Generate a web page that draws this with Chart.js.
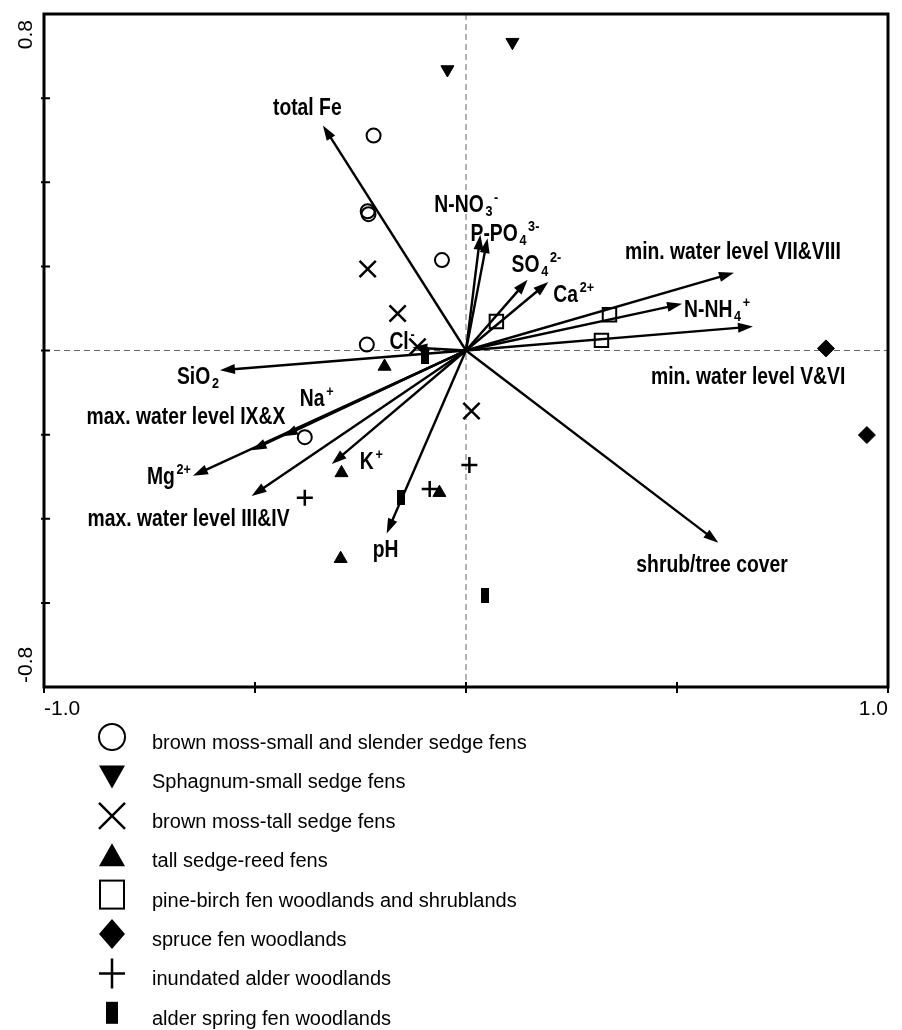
<!DOCTYPE html>
<html>
<head>
<meta charset="utf-8">
<script src="https://cdn.jsdelivr.net/npm/chart.js@4.4.1/dist/chart.umd.min.js"></script>
<style>
  html, body { margin: 0; padding: 0; background: #fff; }
  #wrap { width: 902px; height: 1030px; position: relative; }
</style>
</head>
<body>
<div id="wrap"><canvas id="ordination"></canvas></div>
<script>
// vegetation groups, legend order
const groupNames = [
  'brown moss-small and slender sedge fens',
  'Sphagnum-small sedge fens',
  'brown moss-tall sedge fens',
  'tall sedge-reed fens',
  'pine-birch fen woodlands and shrublands',
  'spruce fen woodlands',
  'inundated alder woodlands',
  'alder spring fen woodlands'
];

// sample scores [axis 1, axis 2]
const brownMossSmall = [[-0.219, 0.511], [-0.233, 0.331], [-0.231, 0.324], [-0.057, 0.215], [-0.235, 0.014], [-0.382, -0.206]];
const sphagnumSmall = [[0.110, 0.733], [-0.044, 0.668]];
const brownMossTall = [[-0.233, 0.194], [-0.162, 0.088], [-0.115, 0.009], [0.013, -0.144]];
const tallSedgeReed = [[-0.193, -0.038], [-0.295, -0.291], [-0.063, -0.338], [-0.297, -0.495]];
const pineBirch = [[0.072, 0.069], [0.340, 0.085], [0.321, 0.024]];
const spruce = [[0.853, 0.005], [0.950, -0.201]];
const inundatedAlder = [[-0.382, -0.350], [-0.086, -0.329], [0.008, -0.272]];
const alderSpring = [[-0.098, -0.014], [-0.153, -0.350], [0.046, -0.582]];

// environmental variables (arrow tips); _{} subscript, ^{} superscript
const envNames = ['total Fe', 'N-NO_{3}^{-}', 'P-PO_{4}^{3-}', 'SO_{4}^{2-}', 'Ca^{2+}',
  'min. water level VII&VIII', 'N-NH_{4}^{+}', 'min. water level V&VI', 'shrub/tree cover',
  'SiO_{2}', 'Na^{+}', 'max. water level IX&X', 'Mg^{2+}', 'max. water level III&IV',
  'K^{+}', 'pH', 'Cl^{-}'];
const envX = [-0.339, 0.034, 0.051, 0.146, 0.195, 0.635, 0.512, 0.680, 0.598, -0.583, -0.434, -0.508, -0.647, -0.508, -0.318, -0.188, -0.127];
const envY = [0.535, 0.275, 0.267, 0.168, 0.163, 0.185, 0.111, 0.057, -0.457, -0.047, -0.204, -0.237, -0.298, -0.346, -0.270, -0.435, 0.007];

// axis ticks
const xTicks = [-1, -0.5, 0, 0.5, 1];
const yTicks = [-0.6, -0.4, -0.2, 0, 0.2, 0.4, 0.6];
const xTickLabels = ['-1.0', '1.0'];
const yTickLabels = ['0.8', '-0.8'];

// label placement, px from arrow tip (left edge, baseline)
const labelOffsets = [[-50, -10], [-46, -23], [-17, 3], [-16, -8], [5, 20], [-109, -14], [2, 13], [-102, 57],
  [-82, 29], [-43, 14], [17, -30], [-165, -26], [-46, 8], [-164, 30], [28, 5], [-14, 24], [-23, 1]];

const FONT = "'Liberation Sans', Arial, Helvetica, sans-serif";

function barCanvas(w, h) {
  const c = document.createElement('canvas');
  c.width = w; c.height = h;
  const g = c.getContext('2d');
  g.fillStyle = '#000';
  g.fillRect(0, 0, w, h);
  return c;
}

const markerStyles = [
  { pointStyle: 'circle', radius: 7, rotation: 0, bg: 'rgba(0,0,0,0)', bw: 2 },
  { pointStyle: 'triangle', radius: 7.5, rotation: 180, bg: '#000', bw: 1 },
  { pointStyle: 'crossRot', radius: 11.5, rotation: 0, bg: '#000', bw: 2.5 },
  { pointStyle: 'triangle', radius: 7.5, rotation: 0, bg: '#000', bw: 1 },
  { pointStyle: 'rect', radius: 9.5, rotation: 0, bg: 'rgba(0,0,0,0)', bw: 2 },
  { pointStyle: 'rectRot', radius: 8.5, rotation: 0, bg: '#000', bw: 1 },
  { pointStyle: 'cross', radius: 8, rotation: 0, bg: '#000', bw: 2.5 },
  { pointStyle: barCanvas(8, 15), radius: 8, rotation: 0, bg: '#000', bw: 0 }
];

const groupData = [brownMossSmall, sphagnumSmall, brownMossTall, tallSedgeReed, pineBirch, spruce, inundatedAlder, alderSpring];

const datasets = groupData.map((pts, i) => ({
  label: groupNames[i],
  data: pts.map(p => ({ x: p[0], y: p[1] })),
  pointStyle: markerStyles[i].pointStyle,
  pointRadius: markerStyles[i].radius,
  pointRotation: markerStyles[i].rotation,
  pointBackgroundColor: markerStyles[i].bg,
  pointBorderColor: '#000',
  pointBorderWidth: markerStyles[i].bw,
  showLine: false
}));

// parse "SO_{4}^{2-}" into segments
function parseLabel(s) {
  const out = [];
  const re = /([_^])\{([^}]*)\}|([^_^]+)/g;
  let m;
  while ((m = re.exec(s)) !== null) {
    if (m[3]) out.push({ t: m[3], k: 0 });
    else out.push({ t: m[2], k: m[1] === '_' ? 1 : 2 });
  }
  return out;
}

function drawRich(ctx, s, x, y) {
  ctx.save();
  ctx.translate(x, y);
  ctx.scale(0.84, 1);
  ctx.fillStyle = '#000';
  ctx.textBaseline = 'alphabetic';
  ctx.textAlign = 'left';
  let cx = 0;
  parseLabel(s).forEach(seg => {
    ctx.font = seg.k ? '700 15px ' + FONT : '700 23px ' + FONT;
    const dy = seg.k === 1 ? 4 : seg.k === 2 ? -10 : 0;
    if (seg.k) cx += 2;
    ctx.fillText(seg.t, cx, dy);
    cx += ctx.measureText(seg.t).width;
  });
  ctx.restore();
}

function drawArrow(ctx, x0, y0, x1, y1) {
  const a = Math.atan2(y1 - y0, x1 - x0);
  const L = 15, W = 5;
  const bx = x1 - L * Math.cos(a), by = y1 - L * Math.sin(a);
  ctx.beginPath();
  ctx.moveTo(x0, y0);
  ctx.lineTo(bx + 2 * Math.cos(a), by + 2 * Math.sin(a));
  ctx.stroke();
  ctx.beginPath();
  ctx.moveTo(x1, y1);
  ctx.lineTo(bx - W * Math.sin(a), by + W * Math.cos(a));
  ctx.lineTo(bx + W * Math.sin(a), by - W * Math.cos(a));
  ctx.closePath();
  ctx.fill();
}

function legendMarker(ctx, i, cx, cy) {
  ctx.save();
  ctx.fillStyle = '#000';
  ctx.strokeStyle = '#000';
  ctx.lineWidth = 2;
  ctx.beginPath();
  switch (i) {
    case 0: ctx.arc(cx, cy, 13, 0, 2 * Math.PI); ctx.stroke(); break;
    case 1: ctx.moveTo(cx - 13, cy - 11); ctx.lineTo(cx + 13, cy - 11); ctx.lineTo(cx, cy + 12); ctx.closePath(); ctx.fill(); break;
    case 2: ctx.lineWidth = 2.5; ctx.moveTo(cx - 13, cy - 13); ctx.lineTo(cx + 13, cy + 13); ctx.moveTo(cx + 13, cy - 13); ctx.lineTo(cx - 13, cy + 13); ctx.stroke(); break;
    case 3: ctx.moveTo(cx, cy - 12); ctx.lineTo(cx + 13, cy + 11); ctx.lineTo(cx - 13, cy + 11); ctx.closePath(); ctx.fill(); break;
    case 4: ctx.strokeRect(cx - 12, cy - 14, 24, 28); break;
    case 5: ctx.moveTo(cx, cy - 15); ctx.lineTo(cx + 13, cy); ctx.lineTo(cx, cy + 15); ctx.lineTo(cx - 13, cy); ctx.closePath(); ctx.fill(); break;
    case 6: ctx.lineWidth = 2.5; ctx.moveTo(cx - 13, cy); ctx.lineTo(cx + 13, cy); ctx.moveTo(cx, cy - 15); ctx.lineTo(cx, cy + 15); ctx.stroke(); break;
    case 7: ctx.fillRect(cx - 6, cy - 11, 12, 22); break;
  }
  ctx.restore();
}

const ordinationPlugin = {
  id: 'ordination',
  beforeDatasetsDraw(chart) {
    const { ctx, chartArea: a, scales: { x, y } } = chart;
    const x0 = x.getPixelForValue(0), y0 = y.getPixelForValue(0);
    // dashed zero lines
    ctx.save();
    ctx.strokeStyle = '#666';
    ctx.lineWidth = 1;
    ctx.setLineDash([6, 4]);
    ctx.beginPath();
    ctx.moveTo(x0, a.top); ctx.lineTo(x0, a.bottom);
    ctx.moveTo(a.left, y0); ctx.lineTo(a.right, y0);
    ctx.stroke();
    ctx.restore();
    // environmental arrows
    ctx.save();
    ctx.strokeStyle = '#000';
    ctx.fillStyle = '#000';
    ctx.lineWidth = 2.4;
    envNames.forEach((n, i) => {
      drawArrow(ctx, x0, y0, x.getPixelForValue(envX[i]), y.getPixelForValue(envY[i]));
    });
    ctx.restore();
    envNames.forEach((n, i) => {
      const tx = x.getPixelForValue(envX[i]), ty = y.getPixelForValue(envY[i]);
      drawRich(ctx, n, tx + labelOffsets[i][0], ty + labelOffsets[i][1]);
    });
  },
  afterDraw(chart) {
    const { ctx, chartArea: a, scales: { x, y } } = chart;
    ctx.save();
    // frame
    ctx.strokeStyle = '#000';
    ctx.lineWidth = 3;
    ctx.strokeRect(a.left, a.top, a.right - a.left, a.bottom - a.top);
    // ticks
    ctx.lineWidth = 2;
    ctx.beginPath();
    yTicks.forEach(v => {
      const py = y.getPixelForValue(v);
      ctx.moveTo(a.left - 3, py); ctx.lineTo(a.left + 6, py);
    });
    xTicks.forEach(v => {
      const px = x.getPixelForValue(v);
      ctx.moveTo(px, a.bottom - 5); ctx.lineTo(px, a.bottom + 6);
    });
    ctx.stroke();
    // tick labels
    ctx.fillStyle = '#000';
    ctx.font = '21px ' + FONT;
    ctx.textBaseline = 'alphabetic';
    ctx.textAlign = 'left';
    ctx.fillText(xTickLabels[0], x.getPixelForValue(-1), a.bottom + 28);
    ctx.textAlign = 'right';
    ctx.fillText(xTickLabels[1], x.getPixelForValue(1), a.bottom + 28);
    ctx.save();
    ctx.translate(a.left - 12, y.getPixelForValue(0.8) + 6);
    ctx.rotate(-Math.PI / 2);
    ctx.textAlign = 'right';
    ctx.fillText(yTickLabels[0], 0, 0);
    ctx.restore();
    ctx.save();
    ctx.translate(a.left - 12, y.getPixelForValue(-0.8) - 4);
    ctx.rotate(-Math.PI / 2);
    ctx.textAlign = 'left';
    ctx.fillText(yTickLabels[1], 0, 0);
    ctx.restore();
    // legend
    ctx.font = '20px ' + FONT;
    ctx.textAlign = 'left';
    groupNames.forEach((name, i) => {
      const cy = 737 + i * 39.4;
      legendMarker(ctx, i, 112, cy);
      ctx.fillStyle = '#000';
      ctx.fillText(name, 152, cy + 12);
    });
    ctx.restore();
  }
};

new Chart(document.getElementById('ordination'), {
  type: 'scatter',
  data: { datasets },
  options: {
    responsive: true,
    maintainAspectRatio: false,
    animation: false,
    events: [],
    layout: { padding: { left: 44, right: 13, top: 11, bottom: 343 } },
    scales: {
      x: { type: 'linear', min: -1, max: 1, display: false },
      y: { type: 'linear', min: -0.8, max: 0.8, display: false }
    },
    plugins: {
      legend: { display: false },
      tooltip: { enabled: false }
    }
  },
  plugins: [ordinationPlugin]
});
</script>
</body>
</html>
